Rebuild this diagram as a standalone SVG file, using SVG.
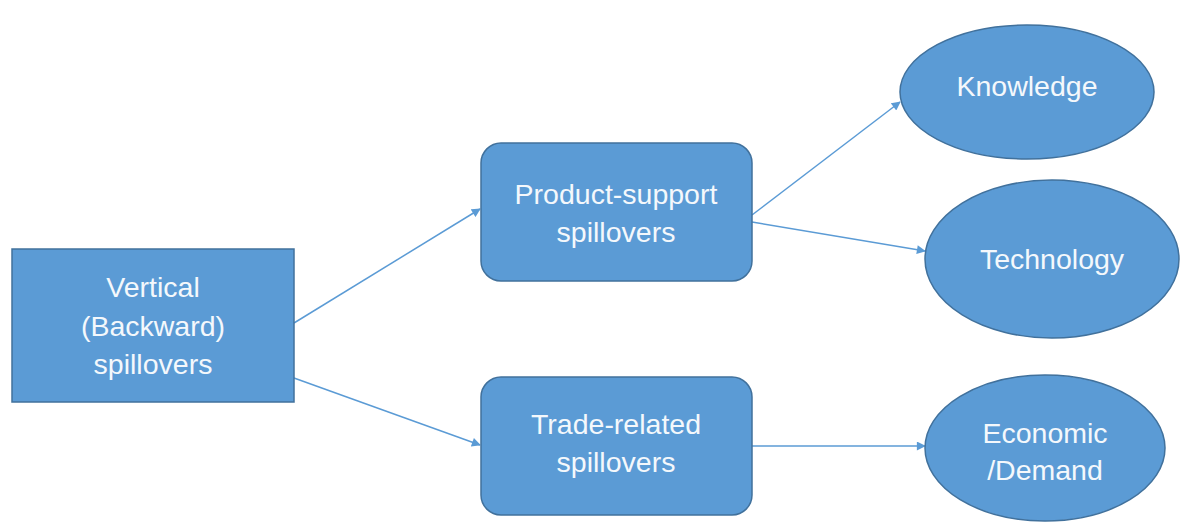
<svg xmlns="http://www.w3.org/2000/svg" width="1180" height="524" viewBox="0 0 1180 524">
<defs>
<style>
.shape{fill:#5B9BD5;stroke:#41719C;stroke-width:1.5}
.lbl{font-family:"Liberation Sans",Arial,sans-serif;font-size:28.5px;fill:#F4F8FC;text-anchor:middle}
.conn{stroke:#5B9BD5;stroke-width:1.5;fill:none;marker-end:url(#arr)}
</style>
<marker id="arr" viewBox="0 0 10 10" refX="9" refY="5" markerWidth="10" markerHeight="9" orient="auto" markerUnits="userSpaceOnUse">
<path d="M0,0 L10,5 L0,10 z" fill="#5B9BD5"/>
</marker>
</defs>
<rect width="1180" height="524" fill="#FFFFFF"/>
<g id="connectors">
<line class="conn" x1="294" y1="323" x2="480" y2="209"/>
<line class="conn" x1="294" y1="378" x2="480" y2="445"/>
<line class="conn" x1="752" y1="215" x2="900" y2="102"/>
<line class="conn" x1="752" y1="222" x2="925" y2="251"/>
<line class="conn" x1="752" y1="446" x2="925" y2="446"/>
</g>
<g id="vertical">
<rect class="shape" x="12" y="249" width="282" height="153"/>
<text class="lbl" x="153" y="297">Vertical</text>
<text class="lbl" x="153" y="336">(Backward)</text>
<text class="lbl" x="153" y="374">spillovers</text>
</g>
<g id="product-support">
<rect class="shape" x="481" y="143" width="271" height="138" rx="20" ry="20"/>
<text class="lbl" x="616" y="204">Product-support</text>
<text class="lbl" x="616" y="242">spillovers</text>
</g>
<g id="trade-related">
<rect class="shape" x="481" y="377" width="271" height="138" rx="20" ry="20"/>
<text class="lbl" x="616" y="434">Trade-related</text>
<text class="lbl" x="616" y="472">spillovers</text>
</g>
<g id="knowledge">
<ellipse class="shape" cx="1027" cy="92" rx="127" ry="67"/>
<text class="lbl" x="1027" y="96">Knowledge</text>
</g>
<g id="technology">
<ellipse class="shape" cx="1052" cy="259" rx="127" ry="79"/>
<text class="lbl" x="1052" y="269">Technology</text>
</g>
<g id="economic">
<ellipse class="shape" cx="1045" cy="448" rx="120" ry="73"/>
<text class="lbl" x="1045" y="443">Economic</text>
<text class="lbl" x="1045" y="480">/Demand</text>
</g>
</svg>
